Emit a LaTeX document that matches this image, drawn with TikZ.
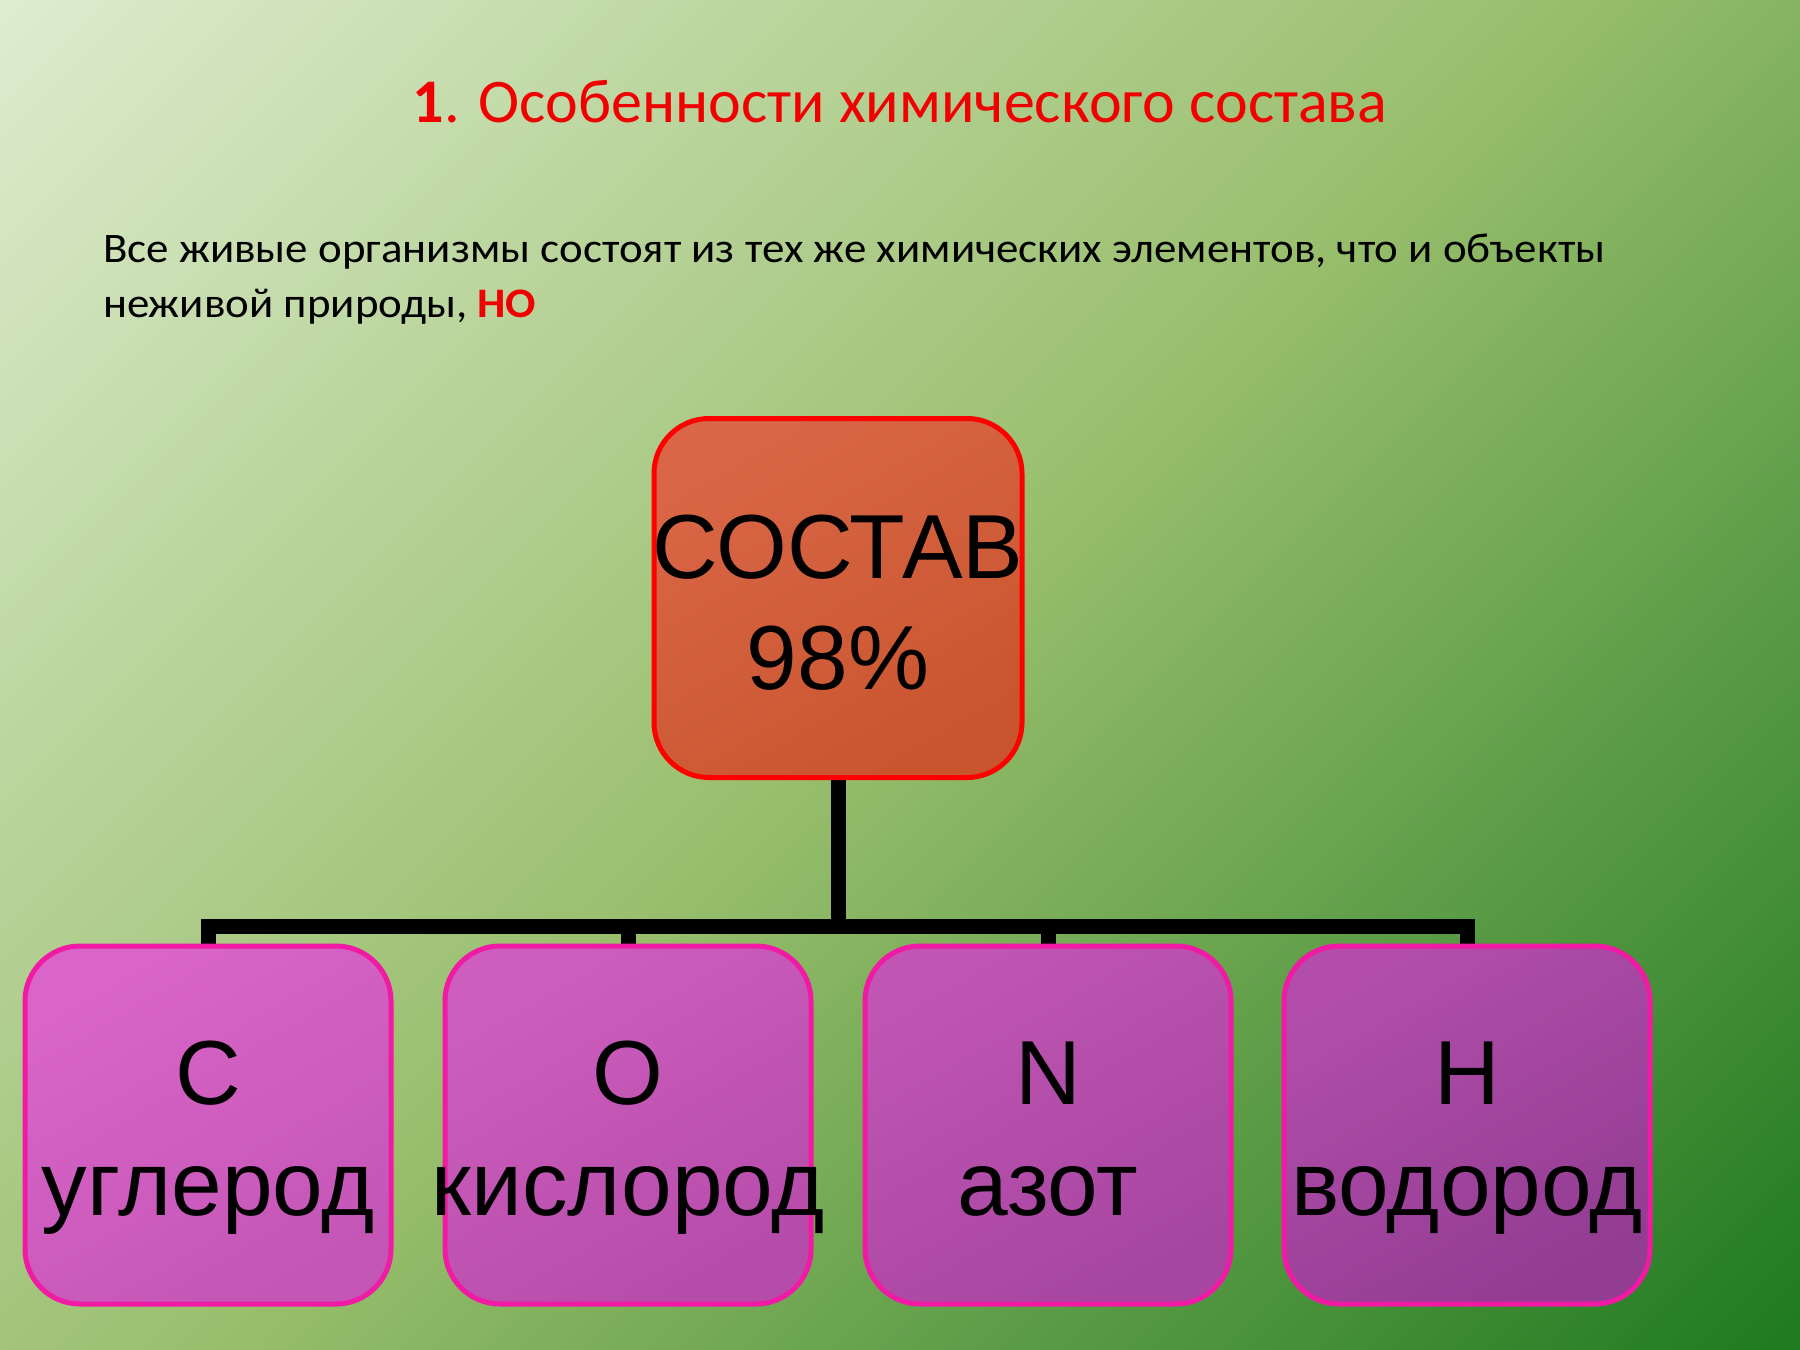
\documentclass[tikz,border=0pt]{standalone}
\usepackage{fontspec}
\setmainfont{Carlito}
\newfontfamily\bodyf[FakeStretch=1.07]{Carlito}
\newfontfamily\arialf{Liberation Sans}
\definecolor{bgA}{HTML}{DEECCF}
\definecolor{bgB}{HTML}{98BE6C}
\definecolor{bgC}{HTML}{1F7A20}
\definecolor{titlered}{HTML}{F00000}
\definecolor{topfillA}{HTML}{D96646}
\definecolor{topfillB}{HTML}{C9552F}
\definecolor{pinkline}{HTML}{F01AA4}
\definecolor{cA}{RGB}{217,101,200}
\definecolor{cB}{RGB}{196,86,182}
\definecolor{oA}{RGB}{206,94,190}
\definecolor{oB}{RGB}{182,76,170}
\definecolor{nA}{RGB}{192,85,180}
\definecolor{nB}{RGB}{166,70,160}
\definecolor{hA}{RGB}{178,78,170}
\definecolor{hB}{RGB}{146,60,146}
\pgfdeclarehorizontalshading{bgshade}{100bp}{color(0bp)=(bgA); color(14.64bp)=(bgA); color(50bp)=(bgB); color(85.36bp)=(bgC); color(100bp)=(bgC)}
\pgfdeclarelayer{back}
\pgfdeclarelayer{mid}
\pgfsetlayers{back,mid,main}
\tikzset{
  bigtext/.style={font=\arialf\fontsize{91}{111}\selectfont, text=black, align=center, inner sep=0pt},
  topbox/.style={draw=red, line width=5pt, rounded corners=55pt,
    minimum width=368pt, minimum height=359pt, inner sep=0pt,
    top color=topfillA, bottom color=topfillB, shading angle=30},
  elbox/.style={draw=pinkline, line width=5pt, rounded corners=55pt,
    minimum width=366pt, minimum height=358pt, inner sep=0pt},
  conn/.style={draw=black, line width=15pt, line join=miter},
  bodytext/.style={font=\bodyf\fontsize{42}{55}\selectfont, text=black, anchor=base west, inner sep=0pt}
}
\begin{document}
\begin{tikzpicture}[x=1pt,y=-1pt]
\begin{pgfonlayer}{back}
\shade[shading=bgshade, shading angle=-45] (0,0) rectangle (1800,1350);
\end{pgfonlayer}
\useasboundingbox (0,0) rectangle (1800,1350);

\node[anchor=base, inner sep=0pt, font=\fontsize{62}{70}\selectfont, text=titlered] (title) at (900,122)
  {\textbf{1}. Особенности химического состава};
\node[bodytext] (body1) at (103,262) {Все живые организмы состоят из тех же химических элементов, что и объекты};
\node[bodytext] (body2) at (103,317) {неживой природы, \textcolor{titlered}{\textbf{НО}}};

\node[topbox] (top) at (838,598) {};
\node[bigtext] (toptext) at ([yshift=-5pt]top.center) {СОСТАВ\\98\%};

\node[elbox, top color=cA, bottom color=cB, shading angle=30] (c) at (208,1125) {};
\node[elbox, top color=oA, bottom color=oB, shading angle=30] (o) at (628,1125) {};
\node[elbox, top color=nA, bottom color=nB, shading angle=30] (n) at (1048,1125) {};
\node[elbox, top color=hA, bottom color=hB, shading angle=30] (h) at (1467,1125) {};
\node[bigtext] (ctext) at ([yshift=-13pt]c.center) {C\\углерод};
\node[bigtext] (otext) at ([yshift=-13pt]o.center) {O\\кислород};
\node[bigtext] (ntext) at ([yshift=-13pt]n.center) {N\\азот\vphantom{у}};
\node[bigtext] (htext) at ([yshift=-13pt]h.center) {H\\водород};

\begin{pgfonlayer}{mid}
\draw[conn] (top.south) -- ++(0,146) coordinate (j);
\draw[conn] (c.north) -- (c.north |- j) -- (h.north |- j) -- (h.north);
\draw[conn] (o.north) -- (o.north |- j);
\draw[conn] (n.north) -- (n.north |- j);
\end{pgfonlayer}
\end{tikzpicture}
\end{document}
